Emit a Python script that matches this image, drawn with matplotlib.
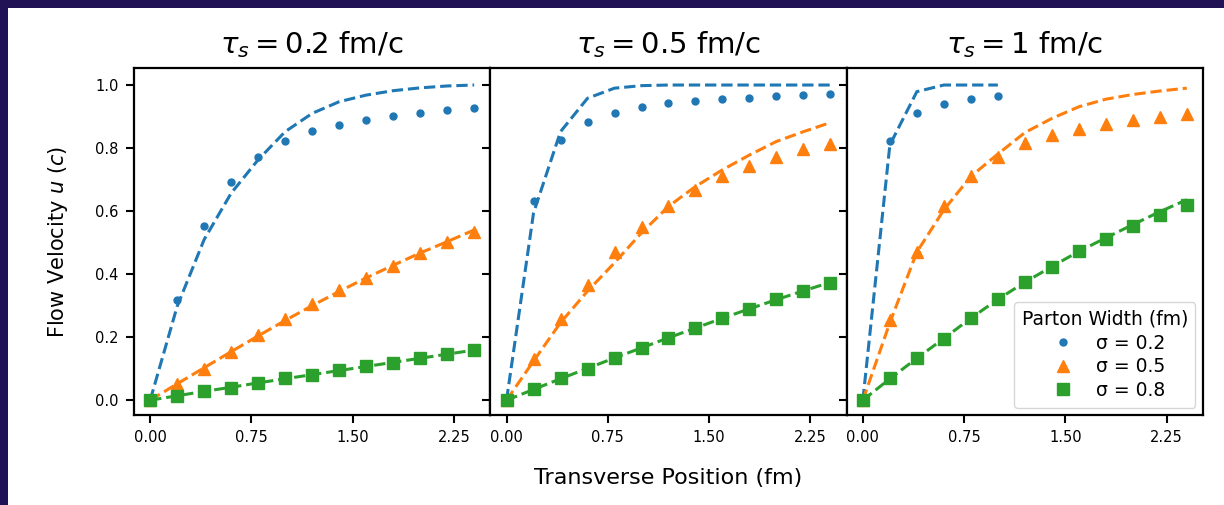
import matplotlib.pyplot as plt
import numpy as np
from matplotlib.patches import Rectangle

# transverse positions (fm)
x = [0.0, 0.2, 0.4, 0.6, 0.8, 1.0, 1.2, 1.4, 1.6, 1.8, 2.0, 2.2, 2.4]
x_short = x[:6]

taus = ['0.2', '0.5', '1']
sigmas = ['0.2', '0.5', '0.8']

# tau_s = 0.2 fm/c
pts_02_s02 = [0.0, 0.317, 0.552, 0.693, 0.773, 0.822, 0.853, 0.872, 0.890, 0.902, 0.912, 0.921, 0.926]
fit_02_s02 = [0.0, 0.298, 0.510, 0.657, 0.763, 0.852, 0.910, 0.947, 0.968, 0.982, 0.991, 0.997, 1.0]
pts_02_s05 = [0.0, 0.051, 0.100, 0.153, 0.206, 0.258, 0.304, 0.349, 0.389, 0.425, 0.467, 0.501, 0.533]
fit_02_s05 = [0.0, 0.052, 0.103, 0.154, 0.204, 0.253, 0.300, 0.345, 0.388, 0.428, 0.467, 0.503, 0.540]
pts_02_s08 = [0.0, 0.014, 0.028, 0.040, 0.054, 0.069, 0.081, 0.095, 0.108, 0.119, 0.133, 0.147, 0.158]
fit_02_s08 = [0.0, 0.014, 0.028, 0.041, 0.055, 0.068, 0.081, 0.094, 0.107, 0.120, 0.133, 0.146, 0.159]

# tau_s = 0.5 fm/c
pts_05_s02 = [0.0, 0.632, 0.824, 0.883, 0.912, 0.930, 0.942, 0.950, 0.956, 0.960, 0.965, 0.968, 0.970]
fit_05_s02 = [0.0, 0.594, 0.852, 0.958, 0.990, 0.998, 1.0, 1.0, 1.0, 1.0, 1.0, 1.0, 1.0]
pts_05_s05 = [0.0, 0.130, 0.258, 0.367, 0.469, 0.548, 0.617, 0.668, 0.710, 0.744, 0.773, 0.797, 0.813]
fit_05_s05 = [0.0, 0.124, 0.246, 0.346, 0.436, 0.531, 0.615, 0.678, 0.731, 0.778, 0.821, 0.852, 0.881]
pts_05_s08 = [0.0, 0.035, 0.069, 0.100, 0.133, 0.166, 0.198, 0.229, 0.261, 0.290, 0.320, 0.347, 0.372]
fit_05_s08 = [0.0, 0.034, 0.068, 0.101, 0.134, 0.166, 0.198, 0.229, 0.260, 0.290, 0.319, 0.347, 0.374]

# tau_s = 1 fm/c
pts_1_s02 = [0.0, 0.822, 0.912, 0.941, 0.955, 0.965]
fit_1_s02 = [0.0, 0.810, 0.979, 1.0, 1.0, 1.0]
pts_1_s05 = [0.0, 0.256, 0.469, 0.617, 0.710, 0.771, 0.815, 0.842, 0.860, 0.877, 0.889, 0.898, 0.908]
fit_1_s05 = [0.0, 0.246, 0.470, 0.604, 0.710, 0.781, 0.849, 0.894, 0.931, 0.955, 0.970, 0.981, 0.990]
pts_1_s08 = [0.0, 0.069, 0.134, 0.195, 0.262, 0.320, 0.374, 0.423, 0.472, 0.512, 0.552, 0.589, 0.620]
fit_1_s08 = [0.0, 0.068, 0.133, 0.196, 0.260, 0.320, 0.374, 0.424, 0.472, 0.515, 0.557, 0.598, 0.636]

panels = [
    [(x, pts_02_s02, fit_02_s02), (x, pts_02_s05, fit_02_s05), (x, pts_02_s08, fit_02_s08)],
    [(x, pts_05_s02, fit_05_s02), (x, pts_05_s05, fit_05_s05), (x, pts_05_s08, fit_05_s08)],
    [(x_short, pts_1_s02, fit_1_s02), (x, pts_1_s05, fit_1_s05), (x, pts_1_s08, fit_1_s08)],
]

colors = ['#1f77b4', '#ff7f0e', '#2ca02c']
markers = ['o', '^', 's']
msizes = [5, 8.5, 8]

fig = plt.figure(figsize=(12.24, 5.05), dpi=100, facecolor='#211155')
fig.patches.append(Rectangle((8/1224, 0), 1, 1 - 8/505, transform=fig.transFigure,
                             facecolor='white', edgecolor='none', zorder=-1))

left, right, bottom, top = 134/1224, 1203/1224, 1 - 415/505, 1 - 68/505
w = (right - left) / 3
axes = []
for i in range(3):
    ax = fig.add_axes([left + i*w, bottom, w, top - bottom], sharey=axes[0] if axes else None)
    axes.append(ax)

for i, ax in enumerate(axes):
    for j, (xx, pts, fit) in enumerate(panels[i]):
        ax.plot(xx, fit, '--', color=colors[j], lw=2.2)
        ax.plot(xx, pts, linestyle='none', marker=markers[j], ms=msizes[j],
                color=colors[j], label=r'σ = ' + sigmas[j])
    ax.set_title(r'$\tau_s = %s$ fm/c' % taus[i], fontsize=21, pad=11)
    ax.set_xticks([0, 0.75, 1.5, 2.25])
    ax.set_xlim(-0.12, 2.52)
    ax.tick_params(labelsize=10.5, length=6, width=1.5, pad=5)
    for s in ax.spines.values():
        s.set_linewidth(1.6)
    if i > 0:
        ax.tick_params(labelleft=False)

axes[0].set_ylim(-0.047, 1.054)
axes[0].set_yticks([0, 0.2, 0.4, 0.6, 0.8, 1.0])
axes[0].set_ylabel(r'Flow Velocity $u$ ($c$)', fontsize=15, labelpad=18)
fig.text((left + right) / 2, 1 - 478/505, 'Transverse Position (fm)', ha='center', va='center', fontsize=16)

axes[2].legend(title='Parton Width (fm)', loc='lower right', fontsize=13.5, title_fontsize=13.5,
               labelspacing=0.25, borderaxespad=0.4)

fig.savefig('out.png', dpi=100, facecolor=fig.get_facecolor())
